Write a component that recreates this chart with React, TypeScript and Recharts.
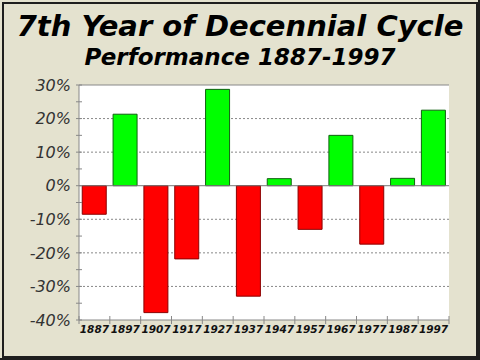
import { BarChart, Bar, XAxis, YAxis, CartesianGrid, ReferenceLine, Cell } from 'recharts'

// years with a 7 at the end, 1887-1997
const years = ['1887', '1897', '1907', '1917', '1927', '1937', '1947', '1957', '1967', '1977', '1987', '1997']
// percent change for each of those years
const returns = [-8.5, 21.3, -37.8, -21.8, 28.7, -32.9, 2.1, -13.0, 15.0, -17.4, 2.2, 22.5]
const yTicks = [-40, -35, -30, -25, -20, -15, -10, -5, 0, 5, 10, 15, 20, 25, 30]
const gridLines = [-30, -20, -10, 10, 20]

const data = years.map((year, i) => ({ year, value: returns[i] }))

const FONT = '"DejaVu Sans", Verdana, sans-serif'

const YTick = (props: any) => {
  const { x, y, payload } = props
  const v = payload.value
  return (
    <g>
      <line x1={x - 3} x2={x + 3} y1={y} y2={y} stroke="#888" />
      {v % 10 === 0 && (
        <text x={x - 8} y={y} dy="0.36em" textAnchor="end" fill="#333"
          style={{ fontFamily: FONT, fontStyle: 'italic', fontSize: 16 }}>
          {`${v}%`}
        </text>
      )}
    </g>
  )
}

const XTick = (props: any) => {
  const { x, y, payload, index } = props
  const half = payload.offset || 0
  return (
    <g>
      <line x1={x - half} x2={x - half} y1={y - 4} y2={y + 4} stroke="#888" />
      {index === years.length - 1 && (
        <line x1={x + half} x2={x + half} y1={y - 4} y2={y + 4} stroke="#888" />
      )}
      <text x={x} y={y + 13} textAnchor="middle" fill="#111"
        style={{ fontFamily: FONT, fontStyle: 'italic', fontWeight: 'bold', fontSize: 10.5 }}>
        {payload.value}
      </text>
    </g>
  )
}

const App = () => {
  return (
    <div style={{ position: 'absolute', left: 0, top: 0, width: 480, height: 360, background: '#E4E2CF', overflow: 'hidden' }}>
      {/* frame */}
      <div style={{ position: 'absolute', left: 2, top: 2, width: 472, height: 352, border: '2px solid #1e1e1e' }} />
      <div style={{ position: 'absolute', right: 0, top: 0, width: 2, height: 360, background: '#1e1e1e' }} />
      <div style={{ position: 'absolute', left: 0, bottom: 0, width: 480, height: 2, background: '#1e1e1e' }} />

      <div style={{ position: 'absolute', left: 0, top: 10, width: 480, textAlign: 'center', fontFamily: FONT,
        fontStyle: 'italic', fontWeight: 'bold', fontSize: 29, lineHeight: '32px', color: '#000' }}>
        7th Year of Decennial Cycle
      </div>
      <div style={{ position: 'absolute', left: 0, top: 44, width: 480, textAlign: 'center', fontFamily: FONT,
        fontStyle: 'italic', fontWeight: 'bold', fontSize: 23, lineHeight: '26px', color: '#000' }}>
        Performance 1887-1997
      </div>

      <div style={{ position: 'absolute', left: 0, top: 0 }}>
        <BarChart width={480} height={360} data={data} margin={{ top: 85, right: 31, left: 0, bottom: 0 }}
          barCategoryGap="10.5%">
          <CartesianGrid vertical={false} horizontalValues={gridLines} stroke="#888" strokeDasharray="2 2" fill="#fff" />
          <XAxis dataKey="year" height={40} interval={0} tickSize={0} tickMargin={0}
            axisLine={{ stroke: '#888' }} tickLine={false} tick={<XTick />} />
          <YAxis width={79} domain={[-40, 30]} ticks={yTicks} interval={0} tickSize={0} tickMargin={0}
            allowDataOverflow axisLine={{ stroke: '#888' }} tickLine={false} tick={<YTick />} />
          <YAxis yAxisId="r" orientation="right" width={0} domain={[-40, 30]} tick={false} tickLine={false}
            axisLine={{ stroke: '#888' }} />
          <ReferenceLine y={30} stroke="#888" />
          <Bar dataKey="value" isAnimationActive={false}>
            {data.map((d, i) => (
              <Cell key={i} fill={d.value < 0 ? '#FF0000' : '#00FF00'} stroke={d.value < 0 ? '#8B0000' : '#106010'} />
            ))}
          </Bar>
          <ReferenceLine y={0} stroke="#777" />
        </BarChart>
      </div>
    </div>
  )
}

export default App
